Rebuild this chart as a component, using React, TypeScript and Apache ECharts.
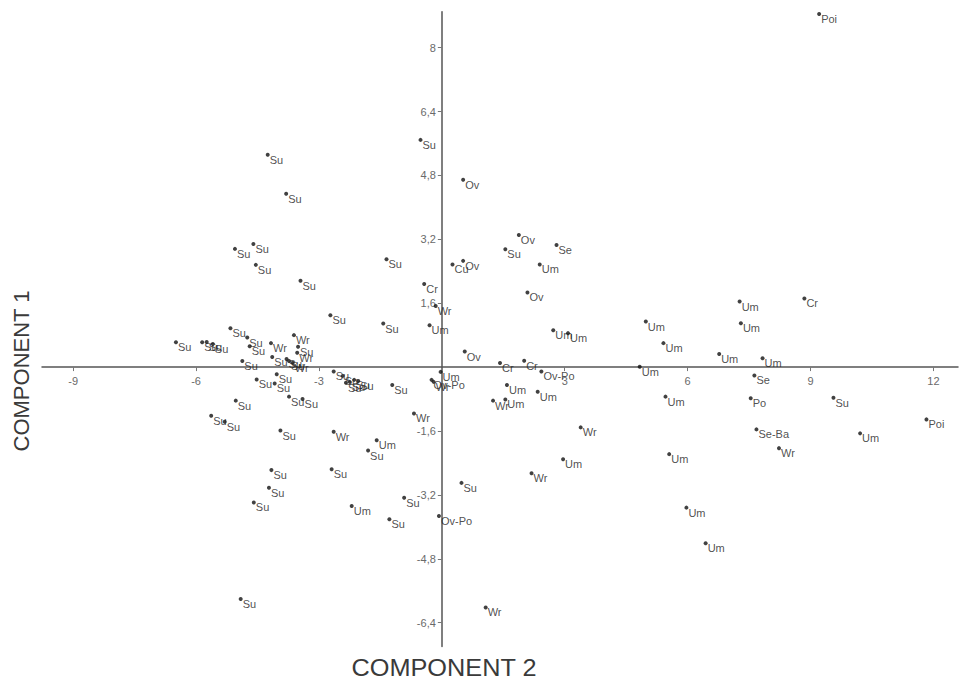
import React, { useEffect, useRef } from "react";
import * as echarts from "echarts";

// Group labels of the observations
const pointLabels: string[] = [
  "Su", "Su", "Su", "Su", "Su", "Su", "Su", "Cr", "Um", "Su",
  "Su", "Su", "Su", "Su", "Su", "Su", "Wr", "Wr", "Su", "Wr",
  "Su", "Su", "Su", "Su", "Wr", "Su", "Su", "Su", "Su", "Su",
  "Su", "Su", "Su", "Su", "Su", "Su", "Su", "Su", "Wr", "Su",
  "Su", "Su", "Wr", "Um", "Su", "Su", "Su", "Su", "Su", "Um",
  "Su", "Su", "Su", "Su", "Ov", "Ov", "Su", "Se", "Cu", "Ov",
  "Um", "Ov", "Wr", "Um", "Um", "Ov", "Cr", "Cr", "Um", "Ov-Po",
  "Wr", "Ov-Po", "Um", "Um", "Wr", "Um", "Wr", "Um", "Wr", "Su",
  "Ov-Po", "Wr", "Um", "Cr", "Um", "Um", "Um", "Um", "Um", "Um",
  "Se", "Um", "Po", "Su", "Poi", "Um", "Se-Ba", "Wr", "Um", "Um",
  "Um", "Poi", "Su", "Su",
];

// COMPONENT 2 (horizontal)
const comp2: number[] = [
  -5.05, -4.60, -4.54, -3.45, -1.35, -2.72, -1.43, -0.43, -0.30, -5.16,
  -6.49, -5.85, -5.74, -5.59, -4.75, -4.69, -4.17, -3.61, -3.51, -3.53,
  -4.87, -4.14, -3.79, -3.73, -3.64, -4.52, -4.03, -4.08, -5.03, -3.73,
  -3.40, -2.64, -2.42, -2.34, -2.25, -2.14, -2.04, -1.21, -0.68, -5.63,
  -5.30, -3.94, -2.64, -1.59, -1.80, -4.16, -2.69, -4.22, -4.59, -2.20,
  -0.92, -1.28, -4.91, -0.52, 0.52, 1.88, 1.55, 2.80, 0.26, 0.52,
  2.39, 2.09, -0.15, 2.72, 3.08, 0.56, 1.42, 2.01, -0.03, -0.25,
  -0.20, 2.43, 1.59, 2.34, 1.25, 1.55, 3.39, 2.96, 2.19, 0.48,
  -0.07, 1.07, 7.27, 8.85, 4.98, 7.30, 5.41, 6.77, 7.83, 4.83,
  7.63, 5.46, 7.54, 9.56, 11.83, 10.21, 7.68, 8.23, 5.55, 5.97,
  6.44, 9.21, -4.25, -3.80,
];

// COMPONENT 1 (vertical)
const comp1: number[] = [
  2.96, 3.08, 2.56, 2.16, 2.70, 1.30, 1.09, 2.08, 1.05, 0.97,
  0.62, 0.62, 0.63, 0.58, 0.74, 0.52, 0.60, 0.80, 0.51, 0.36,
  0.15, 0.25, 0.20, 0.15, 0.11, -0.31, -0.18, -0.41, -0.84, -0.74,
  -0.80, -0.11, -0.22, -0.39, -0.37, -0.32, -0.35, -0.45, -1.16, -1.22,
  -1.37, -1.59, -1.62, -1.83, -2.09, -2.58, -2.56, -3.02, -3.39, -3.48,
  -3.27, -3.81, -5.81, 5.69, 4.69, 3.31, 2.95, 3.06, 2.57, 2.66,
  2.57, 1.87, 1.53, 0.92, 0.85, 0.39, 0.10, 0.16, -0.12, -0.32,
  -0.37, -0.11, -0.45, -0.62, -0.84, -0.81, -1.51, -2.31, -2.66, -2.90,
  -3.73, -6.02, 1.64, 1.72, 1.14, 1.10, 0.60, 0.33, 0.22, 0.01,
  -0.21, -0.74, -0.78, -0.77, -1.31, -1.66, -1.56, -2.03, -2.18, -3.52,
  -4.41, 8.84, 5.32, 4.34,
];

const xTicks: number[] = [-9, -6, -3, 3, 6, 9, 12];
const yTicks: number[] = [-6.4, -4.8, -3.2, -1.6, 1.6, 3.2, 4.8, 6.4, 8];

const X_MIN = -9.76;
const X_MAX = 12.6;
const Y_MIN = -7.0;
const Y_MAX = 8.9;

const fmt = (v: number) => String(Math.round(v * 10) / 10).replace(".", ",");

export default function App() {
  const ref = useRef<HTMLDivElement>(null);

  useEffect(() => {
    if (!ref.current) return;
    const chart = echarts.init(ref.current, undefined, { renderer: "svg" });
    const data = comp2.map((x, i) => ({ value: [x, comp1[i]], name: pointLabels[i] }));
    const font = "Arial, 'Liberation Sans', Helvetica, sans-serif";

    const W = 960;
    const H = 683;
    const gl = 42;
    const gr = 2;
    const gt = 11.7;
    const gb = 36.4;
    const plotW = W - gl - gr;
    const plotH = H - gt - gb;
    // place the axes on the zero lines by offsetting them into the plot
    const zeroY = gt + (Y_MAX / (Y_MAX - Y_MIN)) * plotH;
    const zeroX = gl + ((0 - X_MIN) / (X_MAX - X_MIN)) * plotW;
    const xOffset = -(H - gb - zeroY);
    const yOffset = -(zeroX - gl);

    chart.setOption({
      animation: false,
      backgroundColor: "#ffffff",
      grid: { left: gl, right: gr, top: gt, bottom: gb, containLabel: false },
      xAxis: {
        type: "value",
        position: "bottom",
        offset: xOffset,
        min: X_MIN,
        max: X_MAX,
        axisLine: { show: true, onZero: false, lineStyle: { color: "#555555", width: 1.5 } },
        axisTick: { show: true, length: 4, customValues: xTicks, lineStyle: { color: "#777777" } },
        axisLabel: {
          show: true,
          customValues: xTicks,
          formatter: (v: number) => fmt(v),
          color: "#6a6a6a",
          fontSize: 11,
          fontFamily: font,
          margin: 8,
        },
        splitLine: { show: false },
      },
      yAxis: {
        type: "value",
        position: "left",
        offset: yOffset,
        min: Y_MIN,
        max: Y_MAX,
        axisLine: { show: true, onZero: false, lineStyle: { color: "#555555", width: 1.5 } },
        axisTick: { show: true, length: 4, customValues: yTicks, lineStyle: { color: "#777777" } },
        axisLabel: {
          show: true,
          customValues: yTicks,
          formatter: (v: number) => fmt(v),
          color: "#6a6a6a",
          fontSize: 11,
          fontFamily: font,
          margin: 6,
        },
        splitLine: { show: false },
      },
      series: [
        {
          type: "scatter",
          data,
          symbol: "circle",
          symbolSize: 4,
          itemStyle: { color: "#111111" },
          label: {
            show: true,
            formatter: (p: any) => p.name,
            position: [4, 7],
            align: "left",
            verticalAlign: "middle",
            fontSize: 11,
            fontFamily: font,
            color: "#222222",
          },
          labelLayout: { hideOverlap: false },
        },
      ],
      graphic: [
        {
          type: "text",
          x: 444,
          y: 668,
          scaleX: 1.1,
          style: {
            text: "COMPONENT 2",
            fontSize: 23,
            fontFamily: font,
            fill: "#3a3a3a",
            align: "center",
            verticalAlign: "middle",
          },
        },
        {
          type: "text",
          x: 21,
          y: 371,
          rotation: Math.PI / 2,
          style: {
            text: "COMPONENT 1",
            fontSize: 22,
            fontFamily: font,
            fill: "#3a3a3a",
            align: "center",
            verticalAlign: "middle",
          },
        },
      ],
    });

    return () => chart.dispose();
  }, []);

  return (
    <div
      ref={ref}
      style={{ position: "absolute", left: 0, top: 0, width: 960, height: 683, background: "#fff" }}
    />
  );
}
